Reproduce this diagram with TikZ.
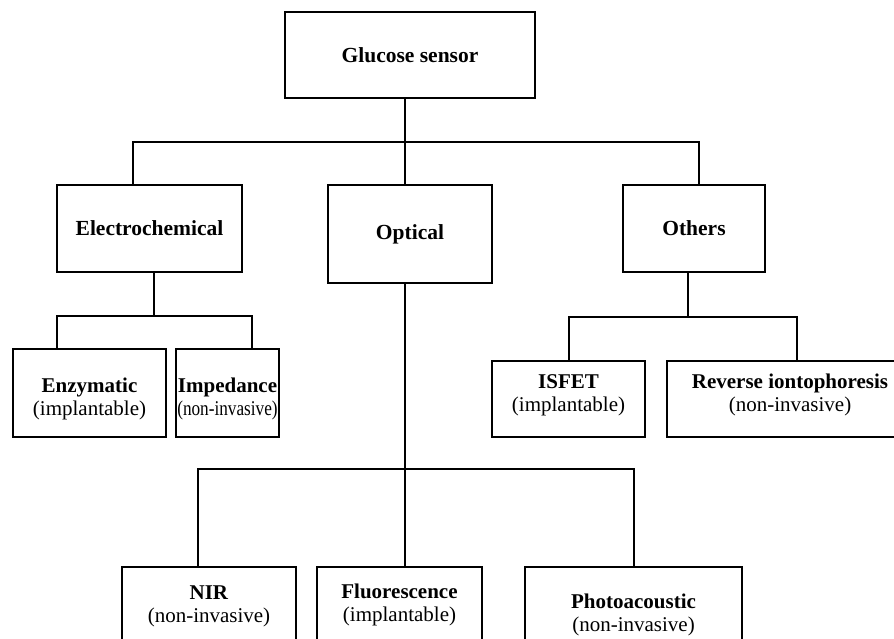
\documentclass[tikz,border=0pt]{standalone}
\usepackage{fontspec}
\usepackage{graphicx}
\setmainfont{Liberation Serif}
\usetikzlibrary{positioning,calc}
\newcommand{\narrowtxt}[1]{\scalebox{0.82}[1]{#1}}

\begin{document}
\begin{tikzpicture}[
  x=1pt, y=-1pt,
  font=\fontsize{21}{23}\selectfont,
  bx/.style   ={draw=black, line width=1.8pt, align=center, inner xsep=2pt},
  root/.style ={bx, font=\fontsize{21.5}{23}\selectfont\bfseries},
  cat/.style  ={bx, font=\fontsize{21.5}{23}\selectfont\bfseries},
  leaf/.style 2 args={bx, anchor=north, inner ysep=0pt, text height=#1, text depth=#2},
  ln/.style   ={line width=1.8pt, black}
]
\useasboundingbox (0,0) rectangle (894,639);
\clip (0,0) rectangle (894,639);

% ---------- root and categories ----------
\node[root, minimum width=250, minimum height=86] (glu) at (410,55) {Glucose sensor};
\node[cat, minimum width=185, minimum height=87] (ele) at (149.5,228.5) {Electrochemical};
\node[cat, minimum width=164, minimum height=98] (opt) at (410,234) {Optical};
\node[cat, minimum width=142, minimum height=87] (oth) at (694,228.5) {Others};

% ---------- leaves ----------
\node[leaf={66.7pt}{21.3pt}, minimum width=153] (enz) at (89.5,348)
  {\textbf{Enzymatic}\\(implantable)};
\node[leaf={66.7pt}{21.3pt}, minimum width=103, inner xsep=0pt] (imp) at (227.5,348)
  {\textbf{Impedance}\\\narrowtxt{(non-invasive)}};
\node[leaf={51pt}{25pt}, minimum width=153] (isf) at (568.5,360)
  {\textbf{ISFET}\\(implantable)};
\node[leaf={51pt}{25pt}, minimum width=246] (rev) at (790,360)
  {\textbf{Reverse iontophoresis}\\(non-invasive)};
\node[leaf={56pt}{65pt}, minimum width=174] (nir) at (209,566)
  {\textbf{NIR}\\(non-invasive)};
\node[leaf={55pt}{65pt}, minimum width=165] (flu) at (399.5,566)
  {\textbf{Fluorescence}\\(implantable)};
\node[leaf={65pt}{65pt}, minimum width=217] (pho) at (633.5,566)
  {\textbf{Photoacoustic}\\(non-invasive)};

% ---------- connectors ----------
\path (glu.south) ++(-5,0) coordinate (g-out) ++(0,43) coordinate (b1);
\path (ele.north) ++(-16.5,0) coordinate (ele-in);
\path (oth.north) ++(5,0) coordinate (oth-in);
\draw[ln] (g-out) -- (b1);
\draw[ln] (ele-in) |- (b1) -| (oth-in);
\draw[ln] (b1) -- (opt.north -| b1);

\path (ele.south) ++(4.5,0) coordinate (ele-out) ++(0,43) coordinate (b2);
\path (enz.north) ++(-32.5,0) coordinate (enz-in);
\path (imp.north) ++(24.5,0) coordinate (imp-in);
\draw[ln] (ele-out) -- (b2);
\draw[ln] (enz-in) |- (b2) -| (imp-in);

\path (oth.south) ++(-6,0) coordinate (oth-out) ++(0,44) coordinate (b3);
\path (isf.north) ++(0.5,0) coordinate (isf-in);
\path (rev.north) ++(7,0) coordinate (rev-in);
\draw[ln] (oth-out) -- (b3);
\draw[ln] (isf-in) |- (b3) -| (rev-in);

\path (opt.south) ++(-5,0) coordinate (opt-out) ++(0,185) coordinate (b4);
\path (nir.north) ++(-11,0) coordinate (nir-in);
\path (pho.north) ++(0.5,0) coordinate (pho-in);
\draw[ln] (opt-out) -- (flu.north -| opt-out);
\draw[ln] (nir-in) |- (b4) -| (pho-in);
\end{tikzpicture}
\end{document}
